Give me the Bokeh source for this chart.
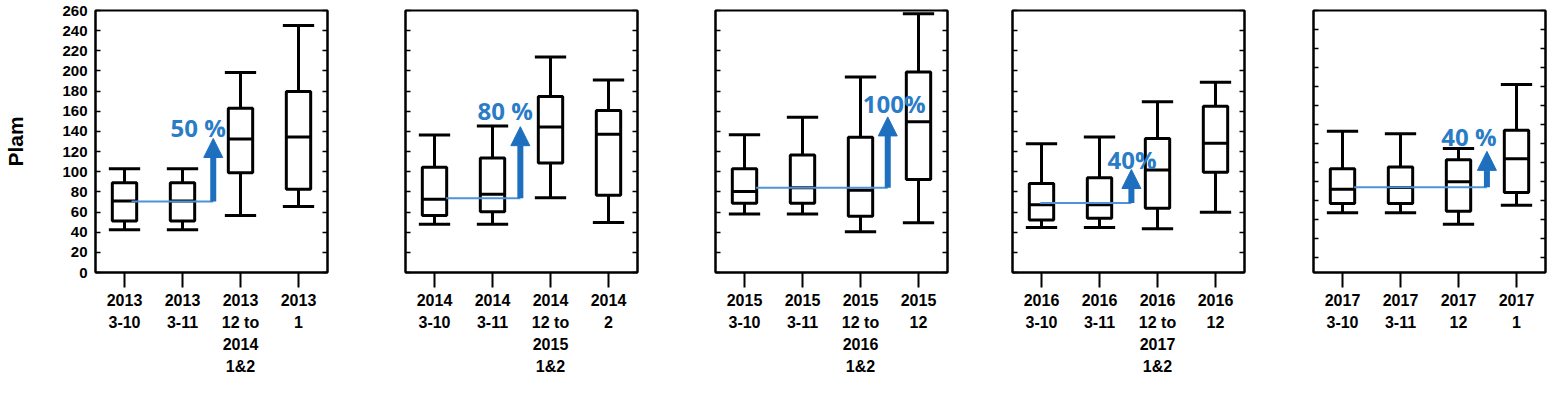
from bokeh.plotting import figure
from bokeh.models import Range1d, LinearAxis, FixedTicker, Arrow, NormalHead, Label
from bokeh.layouts import row
from bokeh.embed import file_html
from bokeh.resources import INLINE

# ---------------- data ----------------
positions = [1, 2, 3, 4]
tick_labels = [
    ["2013\n3-10", "2013\n3-11", "2013\n12 to\n2014\n1&2", "2013\n1"],
    ["2014\n3-10", "2014\n3-11", "2014\n12 to\n2015\n1&2", "2014\n2"],
    ["2015\n3-10", "2015\n3-11", "2015\n12 to\n2016\n1&2", "2015\n12"],
    ["2016\n3-10", "2016\n3-11", "2016\n12 to\n2017\n1&2", "2016\n12"],
    ["2017\n3-10", "2017\n3-11", "2017\n12", "2017\n1"],
]
whisker_low = [
    [42.5, 42.5, 56.5, 65.6],
    [48.0, 48.0, 74.1, 49.6],
    [58.1, 58.1, 40.5, 49.3],
    [44.7, 44.7, 43.4, 59.8],
    [47.0, 47.0, 34.7, 54.9],
]
q1 = [
    [51.0, 51.0, 99.0, 82.6],
    [56.5, 60.4, 108.7, 76.7],
    [68.6, 68.6, 55.8, 92.4],
    [52.2, 53.9, 63.7, 99.6],
    [56.7, 56.7, 48.4, 68.3],
]
median = [
    [71.0, 71.0, 132.6, 134.5],
    [72.8, 77.7, 144.3, 137.1],
    [80.3, 84.2, 81.6, 149.6],
    [67.3, 67.3, 101.6, 128.3],
    [71.8, 73.5, 79.7, 103.7],
]
q3 = [
    [89.0, 89.0, 163.0, 179.6],
    [104.5, 113.6, 174.7, 160.7],
    [102.9, 116.6, 134.2, 198.9],
    [88.2, 94.0, 132.9, 164.9],
    [93.4, 95.1, 102.7, 133.9],
]
whisker_high = [
    [103.0, 103.0, 198.5, 245.0],
    [136.5, 145.3, 213.9, 191.0],
    [136.8, 154.1, 194.0, 256.7],
    [127.7, 134.5, 169.5, 188.7],
    [132.9, 130.1, 114.7, 182.0],
]
arrow_x = [2.53, 2.48, 3.47, 2.55, 3.49]
arrow_base = [70.5, 73.8, 84.2, 68.9, 73.8]
arrow_top = [133.0, 144.7, 154.4, 102.2, 111.6]
line_start = [1.12, 1.2, 1.2, 0.98, 1.2]
pct_labels = ["50 %", "80 %", "100%", "40%", "40 %"]
pct_x = [2.27, 2.22, 3.58, 2.56, 3.18]
pct_y = [143.7, 161.0, 167.5, 112.0, 127.7]
y_ticks = list(range(0, 261, 20))
y_ranges = [(0, 260), (0, 260), (0, 260), (0, 260), (-16, 260)]

# ---------------- layout / style ----------------
FONT = "Liberation Sans"
ARROW_BLUE = "#1f6fbf"
LINE_BLUE = "#4f93d6"
TEXT_BLUE = "#2a7cc6"

# (width, height, left, right, top, bottom)
geom = [
    (366, 377, 95, 39, 9, 103),
    (309, 377, 39, 38, 9, 103),
    (308, 377, 40, 36, 9, 103),
    (295, 377, 29, 34, 9, 103),
    (273, 377, 35, 6, 10, 99),
]

figs = []
for i in range(5):
    w, h, bl, br, bt, bb = geom[i]
    p = figure(width=w, height=h, output_backend="svg", toolbar_location=None,
               x_range=Range1d(0.5, 4.5), y_range=Range1d(*y_ranges[i]),
               min_border_left=bl, min_border_right=br,
               min_border_top=bt, min_border_bottom=bb)
    p.xgrid.visible = False
    p.ygrid.visible = False
    p.outline_line_color = "black"
    p.outline_line_width = 2
    p.background_fill_color = "white"
    p.border_fill_color = "white"

    # x axis
    xa = p.xaxis[0]
    xa.ticker = FixedTicker(ticks=positions)
    xa.major_label_overrides = {pos: lab for pos, lab in zip(positions, tick_labels[i])}
    xa.major_tick_out = 15
    xa.major_tick_in = 0
    xa.major_tick_line_width = 2
    xa.major_tick_line_color = "black"
    xa.minor_tick_line_color = None
    xa.axis_line_color = "black"
    xa.axis_line_width = 2
    xa.major_label_text_font = FONT
    xa.major_label_text_font_style = "bold"
    xa.major_label_text_font_size = "16px"
    xa.major_label_text_color = "black"
    xa.major_label_text_align = "left"
    xa.major_label_text_line_height = 1.3
    xa.major_label_standoff = 4
    xa.major_label_orientation = "horizontal"

    # left y axis
    ya = p.yaxis[0]
    ya.ticker = FixedTicker(ticks=y_ticks)
    ya.major_tick_in = 5
    ya.major_tick_out = 0
    ya.major_tick_line_width = 1.5
    ya.major_tick_line_color = "black"
    ya.minor_tick_line_color = None
    ya.axis_line_color = "black"
    ya.axis_line_width = 2
    if i == 0:
        ya.major_label_text_font = FONT
        ya.major_label_text_font_style = "bold"
        ya.major_label_text_font_size = "15px"
        ya.major_label_text_color = "black"
        ya.major_label_standoff = 8
        ya.axis_label = "Plam"
        ya.axis_label_text_font = FONT
        ya.axis_label_text_font_style = "bold"
        ya.axis_label_text_font_size = "21px"
        ya.axis_label_text_color = "black"
        ya.axis_label_standoff = 32
    else:
        ya.major_label_overrides = {t: "" for t in y_ticks}
        ya.major_label_text_font_size = "0px"
        ya.major_label_standoff = 0

    # right y axis (inward ticks, no labels)
    ra = LinearAxis(ticker=FixedTicker(ticks=y_ticks))
    ra.major_tick_in = 5
    ra.major_tick_out = 0
    ra.major_tick_line_width = 1.5
    ra.major_tick_line_color = "black"
    ra.minor_tick_line_color = None
    ra.axis_line_color = "black"
    ra.axis_line_width = 2
    ra.major_label_overrides = {t: "" for t in y_ticks}
    ra.major_label_text_font_size = "0px"
    ra.major_label_standoff = 0
    p.add_layout(ra, "right")

    # box plots
    lw = 3
    p.segment(x0=positions, y0=whisker_low[i], x1=positions, y1=whisker_high[i],
              line_color="black", line_width=lw)
    cap_l = [x - 0.27 for x in positions]
    cap_r = [x + 0.27 for x in positions]
    p.segment(x0=cap_l, y0=whisker_low[i], x1=cap_r, y1=whisker_low[i],
              line_color="black", line_width=lw)
    p.segment(x0=cap_l, y0=whisker_high[i], x1=cap_r, y1=whisker_high[i],
              line_color="black", line_width=lw)
    p.vbar(x=positions, width=0.42, bottom=q1[i], top=q3[i],
           fill_color="white", line_color="black", line_width=lw)
    box_l = [x - 0.21 for x in positions]
    box_r = [x + 0.21 for x in positions]
    p.segment(x0=box_l, y0=median[i], x1=box_r, y1=median[i],
              line_color="black", line_width=lw)

    # baseline + arrow + percent label
    p.segment(x0=[line_start[i]], y0=[arrow_base[i]], x1=[arrow_x[i]], y1=[arrow_base[i]],
              line_color=LINE_BLUE, line_width=2)
    p.add_layout(Arrow(end=NormalHead(size=19, fill_color=ARROW_BLUE, line_color=ARROW_BLUE),
                       x_start=arrow_x[i], y_start=arrow_base[i],
                       x_end=arrow_x[i], y_end=arrow_top[i],
                       line_color=ARROW_BLUE, line_width=6))
    p.add_layout(Label(x=pct_x[i], y=pct_y[i], text=pct_labels[i],
                       text_color=TEXT_BLUE, text_font="Open Sans",
                       text_font_style="bold", text_font_size="24px",
                       text_align="center", text_baseline="middle"))
    figs.append(p)

layout = row(*figs, spacing=0)
open("out.html", "w").write(file_html(layout, INLINE))
